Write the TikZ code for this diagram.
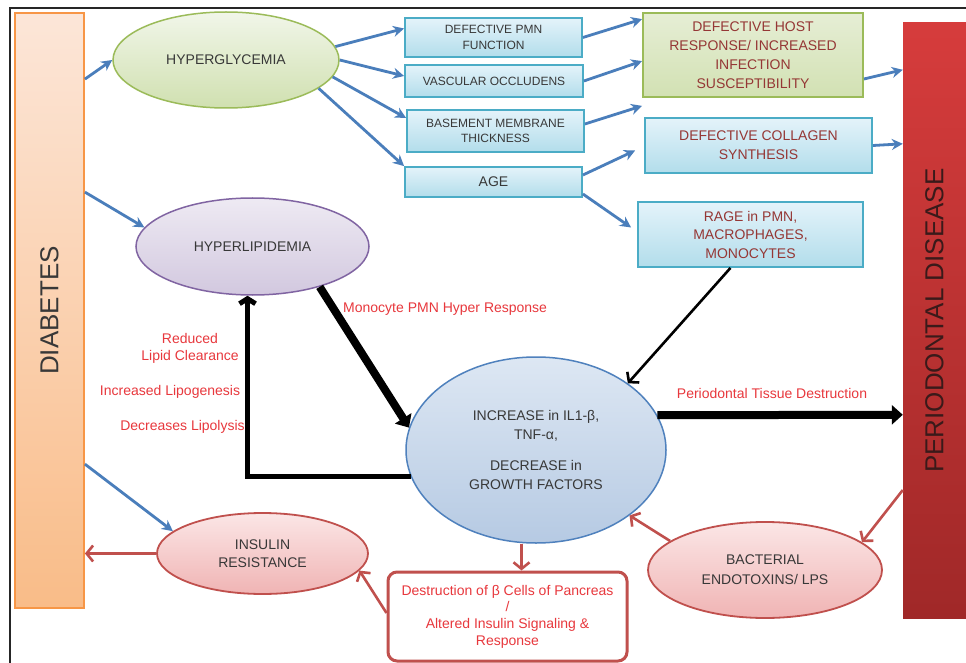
\documentclass[tikz,border=0pt]{standalone}
\usepackage{fontspec}
\setmainfont{Liberation Sans}
\usetikzlibrary{arrows.meta,shapes.geometric}
\definecolor{txtgray}{HTML}{383838}
\definecolor{darkred}{HTML}{953735}
\definecolor{redtxt}{HTML}{E8383D}
\definecolor{arrowblue}{HTML}{4A7EBB}
\definecolor{arrowred}{HTML}{C0504D}
\definecolor{boxline}{HTML}{4BACC6}
\definecolor{boxtop}{HTML}{E4F3FA}
\definecolor{boxbot}{HTML}{B2DDEB}
\definecolor{greenline}{HTML}{9BBB59}
\definecolor{greentop}{HTML}{F1F6E9}
\definecolor{greenbot}{HTML}{D0E0B0}
\definecolor{hosttop}{HTML}{E6EED5}
\definecolor{hostbot}{HTML}{D2E1B3}
\definecolor{purpline}{HTML}{8064A2}
\definecolor{purptop}{HTML}{EEEAF3}
\definecolor{purpbot}{HTML}{D2C8DF}
\definecolor{cenline}{HTML}{4F81BD}
\definecolor{centop}{HTML}{DDE7F3}
\definecolor{cenbot}{HTML}{B6CAE3}
\definecolor{pinktop}{HTML}{FBE6E6}
\definecolor{pinkbot}{HTML}{F0B4B4}
\definecolor{diabtop}{HTML}{FCE6D8}
\definecolor{diabbot}{HTML}{F9BC88}
\definecolor{diabline}{HTML}{F79646}
\definecolor{periotop}{HTML}{D63C3C}
\definecolor{periobot}{HTML}{A02828}
\definecolor{periotxt}{HTML}{3A1A1A}
\begin{document}
\begin{tikzpicture}[x=1pt,y=-1pt,
  lbl/.style={font=\fontsize{14}{19}\selectfont, text=txtgray, align=center, inner sep=0pt},
  bluebox/.style={rectangle, draw=boxline, line width=1.8pt, top color=boxtop, bottom color=boxbot, inner sep=0pt, lbl},
  smallbox/.style={bluebox, font=\fontsize{12}{15.5}\selectfont},
  redlbl/.style={font=\fontsize{14}{17}\selectfont, text=redtxt, align=center, inner sep=0pt},
  barrow/.style={draw=arrowblue, line width=2.8pt, -{Stealth[length=11pt,width=11pt]}},
  rarrow/.style={draw=arrowred, line width=2.6pt, -{Straight Barb[length=6.5pt,width=16pt]}},
  karrow/.style={draw=black, line width=2.6pt, -{Straight Barb[length=6.5pt,width=16pt]}},
  thickarrow/.style={draw=black, line width=8pt, -{Triangle[length=11pt,width=19pt]}},
  feedarrow/.style={draw=black, line width=5pt, -{Straight Barb[length=5pt,width=16pt]}},
]
\useasboundingbox (0,0) rectangle (966,663);
\fill[white] (0,0) rectangle (966,663);
\draw[line width=1.6pt, color=black!85] (10,663) -- (10,8) -- (966,8);

% side bars
\node[rectangle, draw=diabline, line width=1.8pt, top color=diabtop, bottom color=diabbot,
      minimum width=69, minimum height=595, inner sep=0pt] (diab) at (49.5,310.5)
      {\rotatebox{90}{\fontsize{26}{30}\selectfont\color{txtgray}DIABETES}};
\node[rectangle, top color=periotop, bottom color=periobot,
      minimum width=63, minimum height=595, inner sep=0pt] (perio) at (934.5,320.5)
      {\rotatebox{90}{\fontsize{26}{30}\selectfont\color{periotxt}PERIODONTAL DISEASE}};

% ellipses
\node[ellipse, draw=greenline, line width=1.5pt, top color=greentop, bottom color=greenbot,
      minimum width=226, minimum height=96, inner sep=0pt, lbl] (hg) at (226,60) {HYPERGLYCEMIA};
\node[ellipse, draw=purpline, line width=1.5pt, top color=purptop, bottom color=purpbot,
      minimum width=233, minimum height=97, inner sep=0pt, lbl] (hl) at (252.5,246.5) {HYPERLIPIDEMIA};
\node[ellipse, draw=cenline, line width=1.5pt, top color=centop, bottom color=cenbot,
      minimum width=260, minimum height=186, inner sep=0pt, lbl, font=\fontsize{14}{19}\selectfont] (cen) at (536,450)
      {INCREASE in IL1-β,\\TNF-α,\\[12pt]DECREASE in\\GROWTH FACTORS};
\node[ellipse, draw=arrowred, line width=1.8pt, top color=pinktop, bottom color=pinkbot,
      minimum width=211, minimum height=81, inner sep=0pt, lbl, font=\fontsize{14}{18}\selectfont] (ins) at (262.5,553.5)
      {INSULIN\\RESISTANCE};
\node[ellipse, draw=arrowred, line width=1.8pt, top color=pinktop, bottom color=pinkbot,
      minimum width=234, minimum height=96, inner sep=0pt, lbl, font=\fontsize{14}{20}\selectfont] (bac) at (765,570)
      {BACTERIAL\\ENDOTOXINS/ LPS};

% boxes
\node[smallbox, minimum width=177, minimum height=39] (pmn) at (493.5,37.5) {DEFECTIVE PMN\\FUNCTION};
\node[smallbox, minimum width=178, minimum height=32] (vasc) at (494,81) {VASCULAR OCCLUDENS};
\node[smallbox, minimum width=177, minimum height=42] (base) at (495.5,131) {BASEMENT MEMBRANE\\THICKNESS};
\node[bluebox, minimum width=177, minimum height=30] (age) at (493.5,182) {AGE};
\node[rectangle, draw=greenline, line width=1.8pt, top color=hosttop, bottom color=hostbot,
      minimum width=220, minimum height=84, inner sep=0pt, lbl, text=darkred] (host) at (753,55)
      {DEFECTIVE HOST\\RESPONSE/ INCREASED\\INFECTION\\SUSCEPTIBILITY};
\node[bluebox, minimum width=227, minimum height=55, text=darkred] (coll) at (758.5,145.5)
      {DEFECTIVE COLLAGEN\\SYNTHESIS};
\node[bluebox, minimum width=225, minimum height=65, text=darkred, font=\fontsize{14}{18.5}\selectfont] (rage) at (750.5,234.5)
      {RAGE in PMN,\\MACROPHAGES,\\MONOCYTES};
\node[rectangle, rounded corners=9pt, draw=arrowred, line width=3pt, fill=white,
      minimum width=239, minimum height=89, inner sep=0pt, align=center, text=redtxt,
      font=\fontsize{14}{16.7}\selectfont] (des) at (507.5,616.5)
      {Destruction of β Cells of Pancreas\\/\\Altered Insulin Signaling \&\\Response};

% red labels
\node[redlbl, anchor=west] (lmono) at (343,309) {Monocyte PMN Hyper Response};
\node[redlbl] (lred) at (190,348) {Reduced\\Lipid Clearance};
\node[redlbl] (llipo) at (170,392) {Increased Lipogenesis};
\node[redlbl] (lpoly) at (182.5,427) {Decreases Lipolysis};
\node[redlbl] (lptd) at (772,393) {Periodontal Tissue Destruction};

% blue arrows
\draw[barrow] ([yshift=-67pt]diab.north east) -- (hg.west);
\draw[barrow] ([yshift=-180pt]diab.north east) -- (hl.170);
\draw[barrow] ([yshift=-452pt]diab.north east) -- (ins.166);
\draw[barrow] (hg.7) -- ([yshift=9pt]pmn.west);
\draw[barrow] (hg.east) -- ([yshift=5pt]vasc.west);
\draw[barrow] (hg.-9) -- ([yshift=13pt]base.west);
\draw[barrow] (hg.-17) -- (age.north west);
\draw[barrow] (pmn.east) -- ([yshift=-7pt]host.north west);
\draw[barrow] (vasc.east) -- ([yshift=-49pt]host.north west);
\draw[barrow] ([yshift=7pt]base.east) -- ([yshift=-8pt]host.south west);
\draw[barrow] ([yshift=7pt]age.east) -- ([xshift=-9pt,yshift=-5pt]coll.west);
\draw[barrow] ([yshift=-12pt]age.east) -- ([xshift=-6pt,yshift=7pt]rage.west);
\draw[barrow] ([yshift=-24pt]host.east) -- ([yshift=-47pt]perio.north west);
\draw[barrow] (coll.east) -- ([yshift=-121pt]perio.north west);

% black arrows
\draw[karrow] ([xshift=-20pt]rage.south) -- (cen.36);
\draw[thickarrow] (hl.-31) -- (cen.170);
\draw[thickarrow] (cen.16) -- ([yshift=-392pt]perio.north west);
\draw[feedarrow] (cen.192) -| ([xshift=-5pt]hl.south);

% red arrows
\coordinate (dtop) at ([xshift=14pt]des.north);
\draw[rarrow] (ins.west) -- (ins.west -| diab.east);
\draw[rarrow] (cen.south -| dtop) -- (dtop);
\draw[rarrow] ([yshift=3.5pt]des.west) -- (ins.-10);
\draw[rarrow] (bac.163) -- (cen.-35);
\draw[rarrow] ([yshift=-169.5pt]perio.west) -- (bac.16);
\end{tikzpicture}
\end{document}
